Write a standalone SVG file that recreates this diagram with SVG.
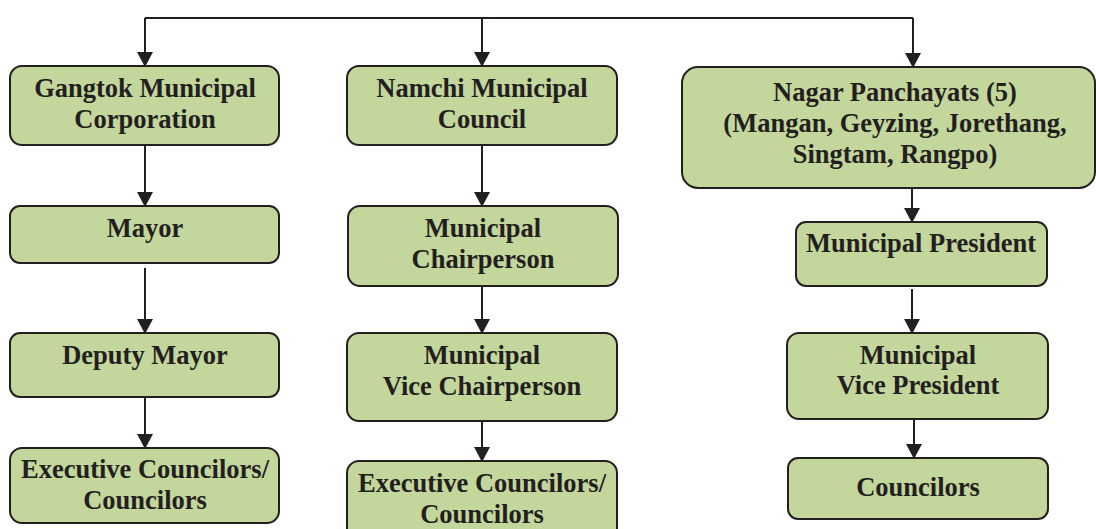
<svg xmlns="http://www.w3.org/2000/svg" width="1096" height="529" viewBox="0 0 1096 529">
<style>
.box{fill:#c3d69b;stroke:#231f20;stroke-width:2}
.t{font-family:"Liberation Serif","Times New Roman",serif;font-weight:bold;font-size:26.5px;fill:#231f20;text-anchor:middle}
.c{fill:none;stroke:#231f20;stroke-width:2}
.ca{fill:none;stroke:#231f20;stroke-width:2;marker-end:url(#ah)}
</style>
<defs>
<marker id="ah" markerUnits="userSpaceOnUse" markerWidth="15" markerHeight="16" refX="14" refY="8" orient="auto">
<path d="M0,0 L15,8 L0,16 z" fill="#231f20"/>
</marker>
</defs>
<rect width="1096" height="529" fill="#ffffff"/>
<g id="connectors">
<path class="c" d="M145,18 H913"/>
<path class="ca" d="M145,18 V66"/>
<path class="ca" d="M482,18 V66"/>
<path class="ca" d="M913,18 V67"/>
<path class="ca" d="M145,145 V206"/>
<path class="ca" d="M145,268 V333"/>
<path class="ca" d="M145,397 V448"/>
<path class="ca" d="M482,145 V206"/>
<path class="ca" d="M482,286 V333"/>
<path class="ca" d="M482,421 V461"/>
<path class="ca" d="M912,188 V222"/>
<path class="ca" d="M912,289 V333"/>
<path class="ca" d="M914,419 V458"/>
</g>
<g id="gangtok">
<rect class="box" x="10" y="66" width="269" height="79" rx="12"/>
<text class="t" x="145" y="97">Gangtok Municipal</text>
<text class="t" x="145" y="128">Corporation</text>
</g>
<g id="mayor">
<rect class="box" x="10" y="206" width="269" height="57" rx="10"/>
<text class="t" x="145" y="237">Mayor</text>
</g>
<g id="deputy-mayor">
<rect class="box" x="10" y="333" width="269" height="64" rx="10"/>
<text class="t" x="145" y="364">Deputy Mayor</text>
</g>
<g id="exec-left">
<rect class="box" x="10" y="448" width="269" height="75" rx="12"/>
<text class="t" x="145" y="478">Executive Councilors/</text>
<text class="t" x="145" y="509">Councilors</text>
</g>
<g id="namchi">
<rect class="box" x="347" y="66" width="270" height="79" rx="12"/>
<text class="t" x="482" y="97">Namchi Municipal</text>
<text class="t" x="482" y="128">Council</text>
</g>
<g id="chairperson">
<rect class="box" x="348" y="206" width="270" height="80" rx="12"/>
<text class="t" x="483" y="237">Municipal</text>
<text class="t" x="483" y="268">Chairperson</text>
</g>
<g id="vice-chairperson">
<rect class="box" x="347" y="333" width="270" height="88" rx="12"/>
<text class="t" x="482" y="364">Municipal</text>
<text class="t" x="482" y="395">Vice Chairperson</text>
</g>
<g id="exec-middle">
<rect class="box" x="347" y="461" width="270" height="80" rx="12"/>
<text class="t" x="482" y="492">Executive Councilors/</text>
<text class="t" x="482" y="523">Councilors</text>
</g>
<g id="nagar">
<rect class="box" x="682" y="67" width="413" height="121" rx="16"/>
<text class="t" x="895" y="101">Nagar Panchayats (5)</text>
<text class="t" x="895" y="132">(Mangan, Geyzing, Jorethang,</text>
<text class="t" x="895" y="163">Singtam, Rangpo)</text>
</g>
<g id="president">
<rect class="box" x="796" y="222" width="251" height="64" rx="10"/>
<text class="t" x="921" y="252">Municipal President</text>
</g>
<g id="vice-president">
<rect class="box" x="787" y="333" width="261" height="86" rx="12"/>
<text class="t" x="918" y="364">Municipal</text>
<text class="t" x="918" y="394">Vice President</text>
</g>
<g id="councilors">
<rect class="box" x="788" y="458" width="260" height="61" rx="10"/>
<text class="t" x="918" y="496">Councilors</text>
</g>
</svg>
